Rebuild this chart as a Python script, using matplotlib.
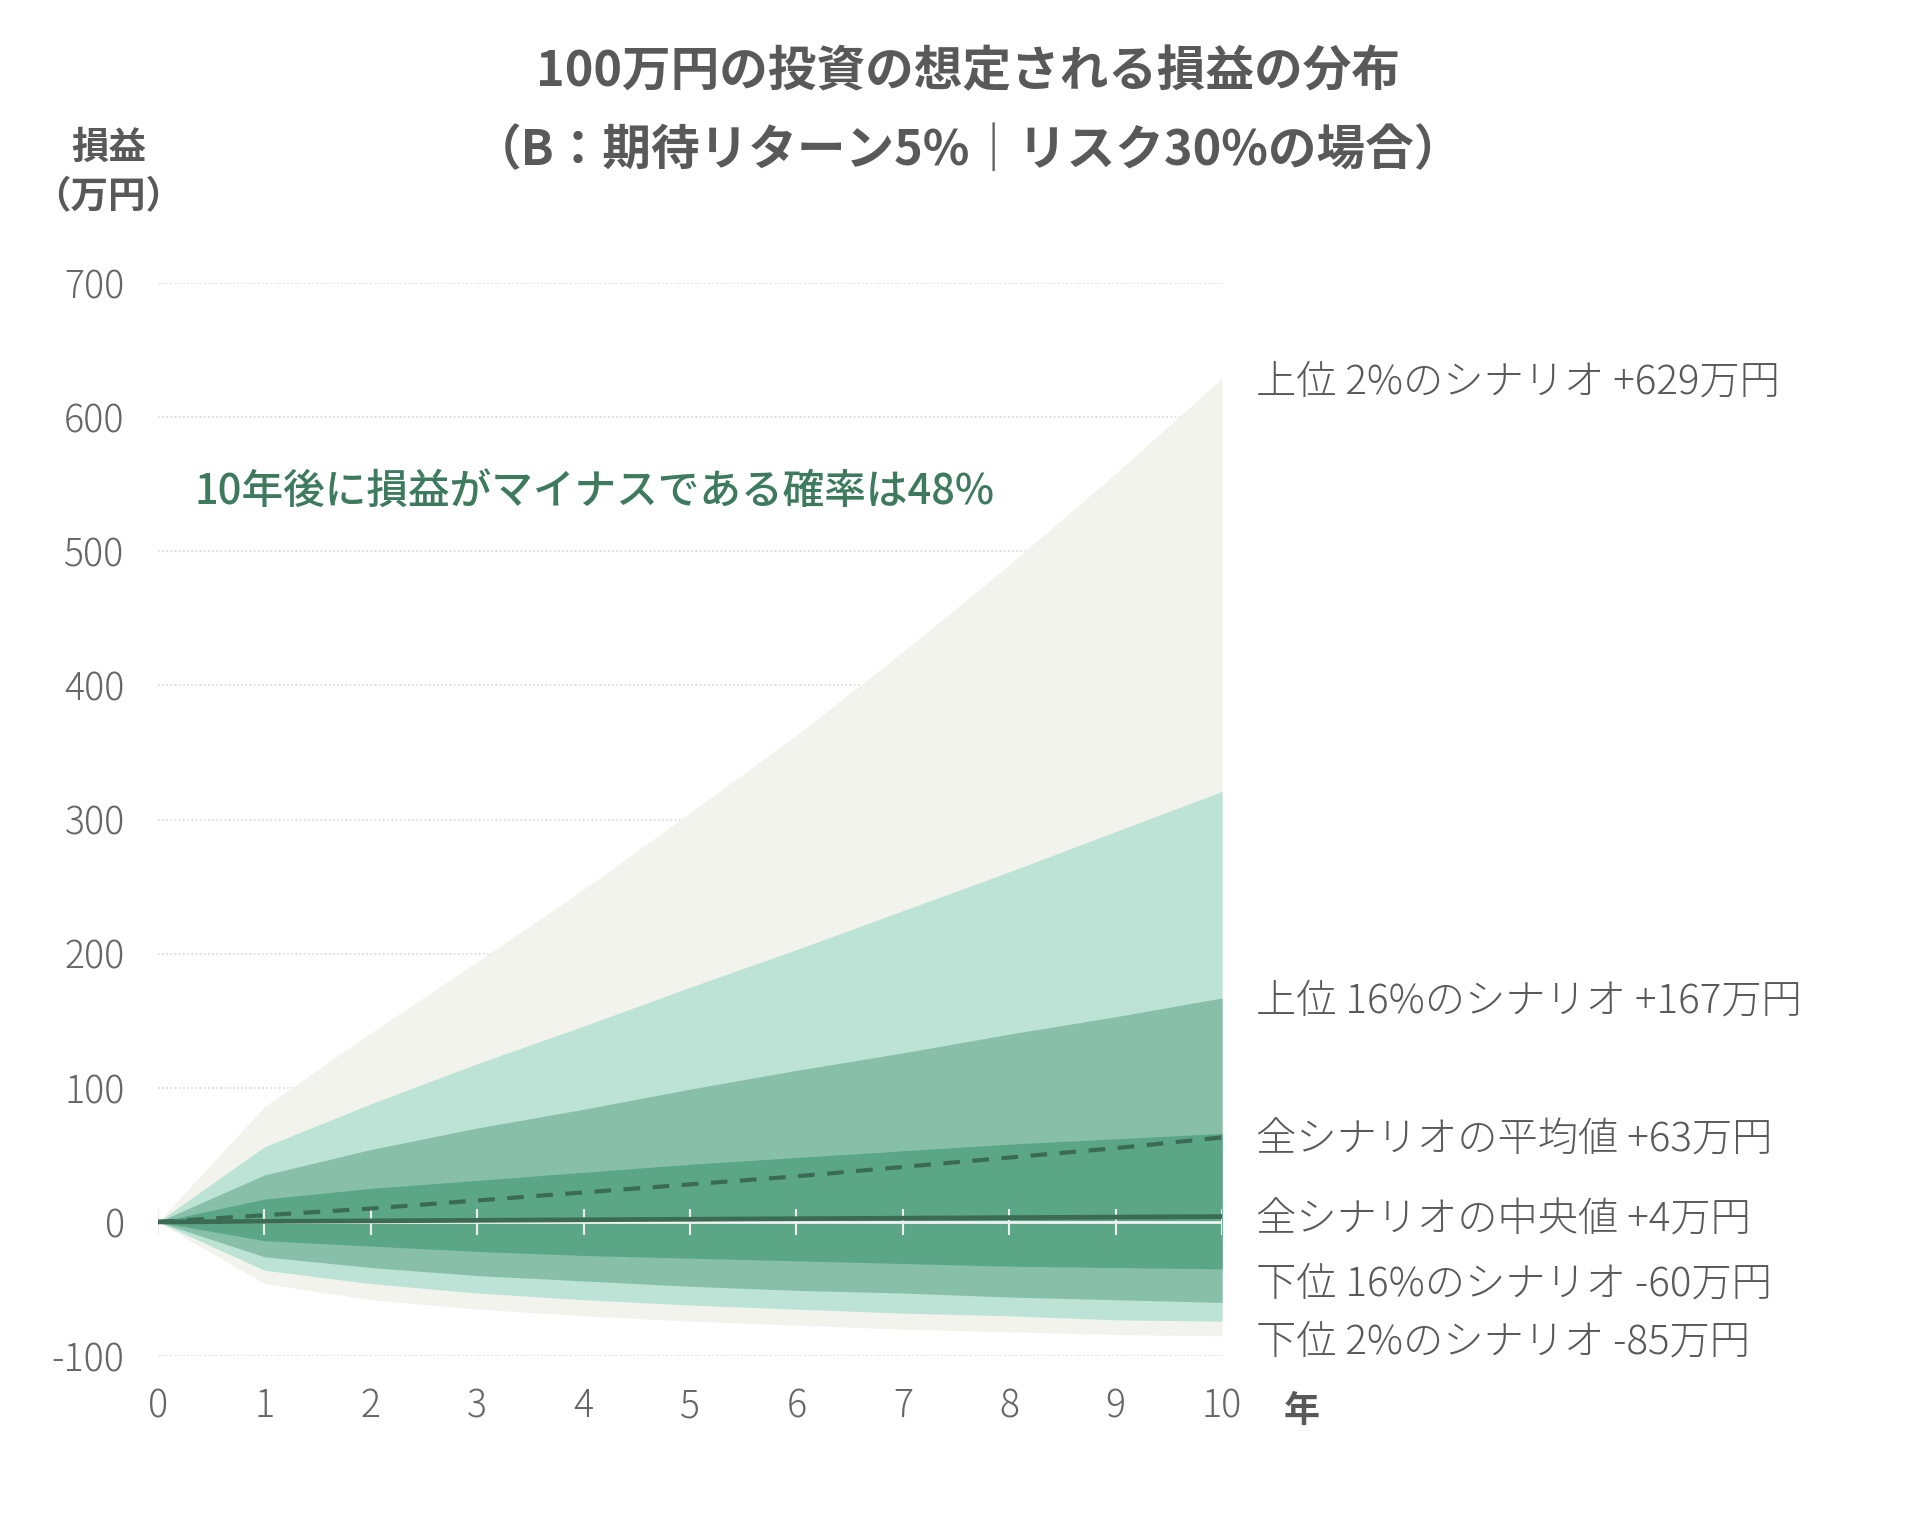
import matplotlib
matplotlib.use("Agg")
import matplotlib.pyplot as plt

plt.rcParams['font.family'] = ['Noto Sans CJK JP', 'DejaVu Sans']
plt.rcParams['axes.unicode_minus'] = False

years = [0, 1, 2, 3, 4, 5, 6, 7, 8, 9, 10]

# 損益（万円）: band edges
top2 = [0, 86, 141, 194, 248, 305, 363, 425, 490, 558, 629]
top7 = [0, 56, 88, 118, 146, 175, 203, 232, 261, 291, 321]
top16 = [0, 35, 54, 70, 84, 99, 113, 126, 140, 153, 167]
top31 = [0, 17, 25, 31, 37, 43, 48, 53, 58, 62, 66]
median = [0, 0.4, 0.8, 1.2, 1.6, 2.0, 2.4, 2.8, 3.2, 3.6, 4]
mean = [0, 5, 10, 16, 22, 28, 34, 41, 48, 55, 63]
low31 = [0, -14, -18, -22, -25, -27, -29, -31, -33, -34, -35]
low16 = [0, -26, -34, -40, -44, -48, -51, -53, -56, -58, -60]
low7 = [0, -36, -46, -53, -58, -62, -65, -68, -70, -73, -74]
low2 = [0, -46, -58, -65, -70, -74, -77, -80, -82, -84, -85]

yticks = [-100, 0, 100, 200, 300, 400, 500, 600, 700]

end_labels = ["上位 2%のシナリオ +629万円", "上位 16%のシナリオ +167万円",
              "全シナリオの平均値 +63万円", "全シナリオの中央値 +4万円",
              "下位 16%のシナリオ -60万円", "下位 2%のシナリオ -85万円"]
end_label_y = [626, 164, 61, 1, -47, -90]

title = "100万円の投資の想定される損益の分布"
subtitle = "（B：期待リターン5%｜リスク30%の場合）"
note = "10年後に損益がマイナスである確率は48%"

GRAY = "#595959"
LINE = "#3b6b53"

fig = plt.figure(figsize=(19.2, 15.24), dpi=100)
ax = fig.add_axes([0.0823, 0.1102, 0.5542, 0.7041])

ax.fill_between(years, low2, top2, color="#f3f3ee", lw=0, zorder=1)
ax.fill_between(years, low7, top7, color="#bce3d5", lw=0, zorder=2)
ax.fill_between(years, low16, top16, color="#88bfaa", lw=0, zorder=3)
ax.fill_between(years, low31, top31, color="#5aa686", lw=0, zorder=4)

# zero line with white year ticks
ax.axhline(0, color="#f2f2f2", lw=2, zorder=5)
ax.vlines(years, -10, 10, color="#eeeeee", lw=1.5, zorder=5)

ax.plot(years, mean, color=LINE, lw=3, ls=(0, (4, 3)), zorder=6)
ax.plot(years, median, color=LINE, lw=3.4, zorder=7)

ax.set_xlim(0, 10)
ax.set_ylim(-100, 700)
ax.set_xticks(years)
ax.set_yticks(yticks)
ax.tick_params(axis="both", length=0, labelsize=27, labelcolor="#666666")
ax.tick_params(axis="y", pad=24)
ax.tick_params(axis="x", pad=22)
for lab in ax.get_xticklabels() + ax.get_yticklabels():
    lab.set_fontweight("light")
for s in ax.spines.values():
    s.set_visible(False)
ax.yaxis.grid(True, color="#d9d9d9", ls=(0, (1, 1.5)), lw=1.2, zorder=0)
ax.set_axisbelow(True)

for lab, yv in zip(end_labels, end_label_y):
    ax.text(10.32, yv, lab, fontsize=29, color=GRAY, va="center", ha="left",
            clip_on=False, fontweight="light")

ax.text(0.34, 545, note, fontsize=30, color="#3d7a5e", va="center", ha="left",
        fontweight="medium")

fig.text(0.504, 0.953, title, fontsize=35, fontweight="bold", color=GRAY,
         ha="center", va="center")
fig.text(0.504, 0.901, subtitle, fontsize=35, fontweight="bold", color=GRAY,
         ha="center", va="center")
fig.text(0.0565, 0.903, "損益", fontsize=27, fontweight="bold", color=GRAY,
         ha="center", va="center")
fig.text(0.0565, 0.871, "（万円）", fontsize=27, fontweight="bold", color=GRAY,
         ha="center", va="center")
fig.text(0.678, 0.074, "年", fontsize=26, fontweight="bold", color=GRAY,
         ha="center", va="center")

fig.savefig("out.png", dpi=100, facecolor="white")
